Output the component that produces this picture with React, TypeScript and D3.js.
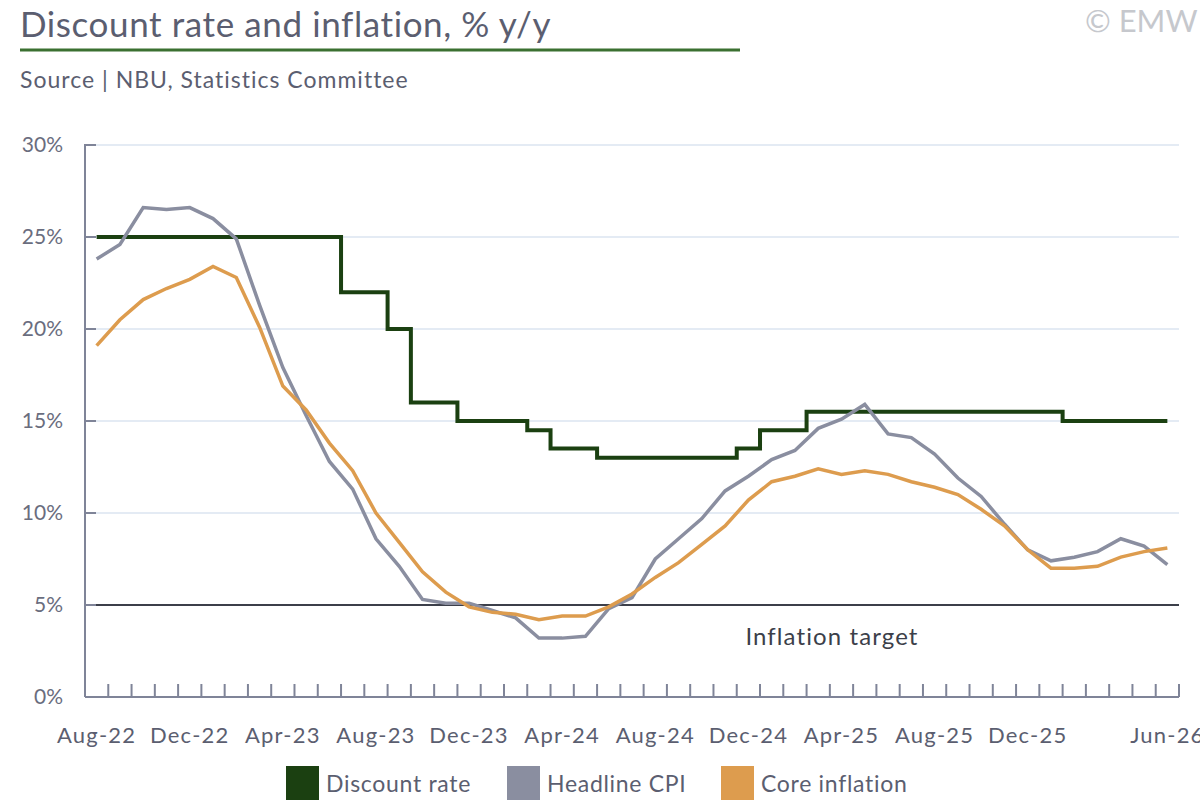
// Discount rate and inflation chart (NBU / Statistics Committee)
import React, { useEffect, useRef } from 'react';
import * as d3 from 'd3';

const months: string[] = [
  'Aug-22', 'Sep-22', 'Oct-22', 'Nov-22', 'Dec-22',
  'Jan-23', 'Feb-23', 'Mar-23', 'Apr-23', 'May-23', 'Jun-23', 'Jul-23', 'Aug-23', 'Sep-23', 'Oct-23', 'Nov-23', 'Dec-23',
  'Jan-24', 'Feb-24', 'Mar-24', 'Apr-24', 'May-24', 'Jun-24', 'Jul-24', 'Aug-24', 'Sep-24', 'Oct-24', 'Nov-24', 'Dec-24',
  'Jan-25', 'Feb-25', 'Mar-25', 'Apr-25', 'May-25', 'Jun-25', 'Jul-25', 'Aug-25', 'Sep-25', 'Oct-25', 'Nov-25', 'Dec-25',
  'Jan-26', 'Feb-26', 'Mar-26', 'Apr-26', 'May-26', 'Jun-26',
];

const discountRate: number[] = [
  25, 25, 25, 25, 25,
  25, 25, 25, 25, 25, 25, 22, 22, 20, 16, 16, 15,
  15, 15, 14.5, 13.5, 13.5, 13, 13, 13, 13, 13, 13, 13.5,
  14.5, 14.5, 15.5, 15.5, 15.5, 15.5, 15.5, 15.5, 15.5, 15.5, 15.5, 15.5,
  15.5, 15, 15, 15, 15, 15,
];

const headlineCpi: number[] = [
  23.8, 24.6, 26.6, 26.5, 26.6,
  26.0, 24.9, 21.3, 17.9, 15.3, 12.8, 11.3, 8.6, 7.1, 5.3, 5.1, 5.1,
  4.7, 4.3, 3.2, 3.2, 3.3, 4.8, 5.4, 7.5, 8.6, 9.7, 11.2, 12.0,
  12.9, 13.4, 14.6, 15.1, 15.9, 14.3, 14.1, 13.2, 11.9, 10.9, 9.4, 8.0,
  7.4, 7.6, 7.9, 8.6, 8.2, 7.2,
];

const coreInflation: number[] = [
  19.1, 20.5, 21.6, 22.2, 22.7,
  23.4, 22.8, 20.1, 16.9, 15.6, 13.8, 12.3, 10.0, 8.4, 6.8, 5.7, 4.9,
  4.6, 4.5, 4.2, 4.4, 4.4, 4.9, 5.6, 6.5, 7.3, 8.3, 9.3, 10.7,
  11.7, 12.0, 12.4, 12.1, 12.3, 12.1, 11.7, 11.4, 11.0, 10.2, 9.3, 8.0,
  7.0, 7.0, 7.1, 7.6, 7.9, 8.1,
];

const yTicks: number[] = [0, 5, 10, 15, 20, 25, 30];
const xLabels: string[] = [
  'Aug-22', 'Dec-22', 'Apr-23', 'Aug-23', 'Dec-23', 'Apr-24',
  'Aug-24', 'Dec-24', 'Apr-25', 'Aug-25', 'Dec-25', 'Jun-26',
];
const inflationTarget = 5;

const series = [
  { name: 'Discount rate', values: discountRate, color: '#1b4011', width: 4, step: true },
  { name: 'Headline CPI', values: headlineCpi, color: '#8a8ea0', width: 3.5, step: false },
  { name: 'Core inflation', values: coreInflation, color: '#dd9c4e', width: 3.5, step: false },
];

const FONT = 'Lato, "Open Sans", sans-serif';
const TEXT = '#5b5e70';

const App: React.FC = () => {
  const ref = useRef<SVGSVGElement>(null);

  useEffect(() => {
    if (!ref.current) return;
    const svg = d3.select(ref.current);
    svg.selectAll('*').remove();

    const width = 1200;
    const height = 800;
    const left = 85;
    const right = 1179;
    const top = 145;
    const bottom = 697;

    svg.attr('width', width).attr('height', height).style('font-family', FONT);

    const x = d3.scaleBand<string>().domain(months).range([left, right]).paddingInner(0).paddingOuter(0);
    const cx = (m: string) => (x(m) ?? 0) + x.bandwidth() / 2;
    const y = d3.scaleLinear().domain([0, 30]).range([bottom, top]);

    // Header
    svg.append('text')
      .attr('x', 20).attr('y', 37)
      .style('font-size', '35px').style('letter-spacing', '0.6px').style('fill', TEXT)
      .text('Discount rate and inflation, % y/y');
    svg.append('line')
      .attr('x1', 20).attr('x2', 740).attr('y1', 50).attr('y2', 50)
      .attr('stroke', '#3b7031').attr('stroke-width', 3);
    svg.append('text')
      .attr('x', 20).attr('y', 88)
      .style('font-size', '23px').style('letter-spacing', '1px').style('fill', TEXT)
      .text('Source | NBU, Statistics Committee');
    svg.append('text')
      .attr('x', 1085).attr('y', 32)
      .style('font-size', '31px').style('fill', '#c6c8cd')
      .text('© EMW');

    // Gridlines
    svg.append('g')
      .selectAll('line')
      .data(yTicks.filter((t) => t > 0 && t !== inflationTarget))
      .join('line')
      .attr('x1', left).attr('x2', right)
      .attr('y1', (d) => y(d)).attr('y2', (d) => y(d))
      .attr('stroke', '#dbe5f1').attr('stroke-width', 1.5);

    // Inflation target
    svg.append('line')
      .attr('x1', left).attr('x2', right)
      .attr('y1', y(inflationTarget)).attr('y2', y(inflationTarget))
      .attr('stroke', '#3c3f4a').attr('stroke-width', 2);
    svg.append('text')
      .attr('x', 832).attr('y', y(inflationTarget) + 40)
      .attr('text-anchor', 'middle')
      .style('font-size', '24px').style('letter-spacing', '1.1px').style('fill', '#3c3f4a')
      .text('Inflation target');

    // Y axis
    const yAxis = svg.append('g');
    yAxis.append('line')
      .attr('x1', left).attr('x2', left).attr('y1', top - 1).attr('y2', bottom)
      .attr('stroke', '#7f8498').attr('stroke-width', 2);
    yAxis.selectAll('line.tick')
      .data(yTicks)
      .join('line')
      .attr('class', 'tick')
      .attr('x1', left).attr('x2', left + 11)
      .attr('y1', (d) => y(d)).attr('y2', (d) => y(d))
      .attr('stroke', '#7f8498').attr('stroke-width', 2);
    yAxis.selectAll('text')
      .data(yTicks)
      .join('text')
      .attr('x', 63).attr('y', (d) => y(d) + 7)
      .attr('text-anchor', 'end')
      .style('font-size', '21px').style('fill', '#6a6d7e')
      .text((d) => `${d}%`);

    // X axis
    const xAxis = svg.append('g');
    xAxis.append('line')
      .attr('x1', left).attr('x2', right).attr('y1', bottom).attr('y2', bottom)
      .attr('stroke', '#7f8498').attr('stroke-width', 2);
    xAxis.selectAll('line.tick')
      .data(months)
      .join('line')
      .attr('class', 'tick')
      .attr('x1', (d) => (x(d) ?? 0) + x.bandwidth())
      .attr('x2', (d) => (x(d) ?? 0) + x.bandwidth())
      .attr('y1', bottom).attr('y2', bottom - 13)
      .attr('stroke', '#7f8498').attr('stroke-width', 2);
    xAxis.selectAll('text')
      .data(xLabels)
      .join('text')
      .attr('x', (d) => cx(d)).attr('y', 743)
      .attr('text-anchor', 'middle')
      .style('font-size', '22px').style('letter-spacing', '1.2px').style('fill', '#5b5e70')
      .text((d) => d);

    // Series lines
    series.forEach((s) => {
      const line = d3.line<number>()
        .x((_, i) => cx(months[i]))
        .y((d) => y(d))
        .curve(s.step ? d3.curveStep : d3.curveLinear);
      svg.append('path')
        .datum(s.values)
        .attr('fill', 'none')
        .attr('stroke', s.color)
        .attr('stroke-width', s.width)
        .attr('stroke-linejoin', 'miter')
        .attr('d', line);
    });

    // Legend
    const legendX = [286, 507, 721];
    const legend = svg.append('g')
      .selectAll('g')
      .data(series)
      .join('g')
      .attr('transform', (_, i) => `translate(${legendX[i]},766)`);
    legend.append('rect')
      .attr('width', 33).attr('height', 34)
      .attr('fill', (d) => d.color);
    legend.append('text')
      .attr('x', 40).attr('y', 26)
      .style('font-size', '23px').style('letter-spacing', '0.7px').style('fill', TEXT)
      .text((d) => d.name);
  }, []);

  return (
    <div style={{ position: 'absolute', left: 0, top: 0 }}>
      <svg ref={ref} style={{ display: 'block' }}></svg>
    </div>
  );
};

export default App;
